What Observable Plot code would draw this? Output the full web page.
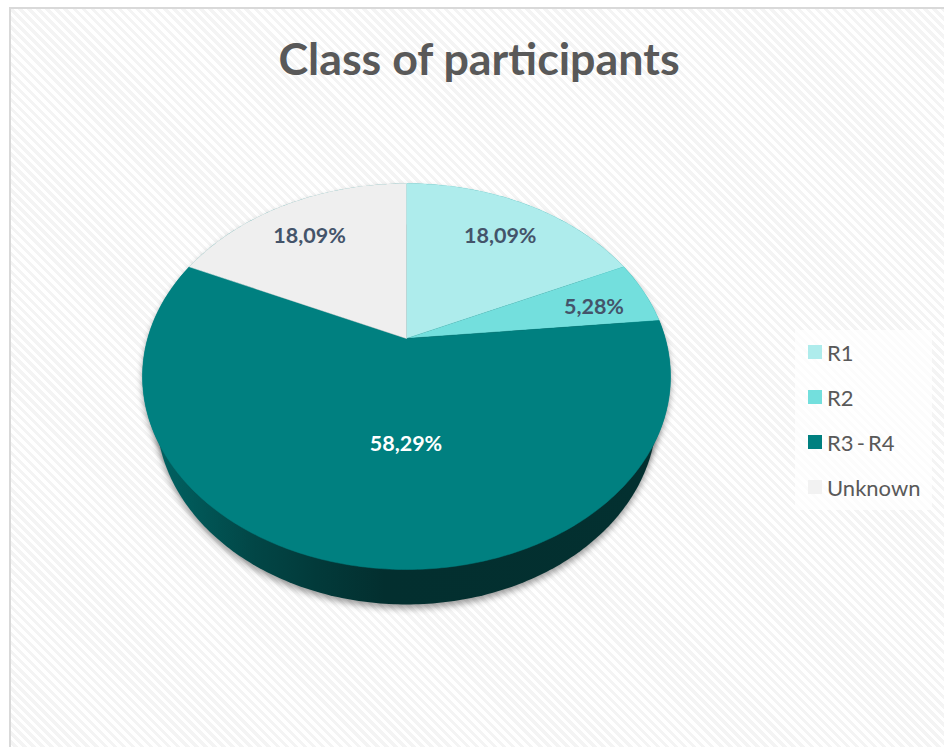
<!DOCTYPE html>
<html>
<head>
<meta charset="utf-8">
<script src="https://cdn.jsdelivr.net/npm/d3@7"></script>
<script src="https://cdn.jsdelivr.net/npm/@observablehq/plot@0.6"></script>
<style>
  html, body { margin: 0; padding: 0; background: #fff; overflow: hidden; }
  #frame { position: relative; width: 944px; height: 747px; overflow: hidden; font-family: Lato, "Open Sans", sans-serif; }
  #bg { position: absolute; left: 9px; top: 7px; right: -4px; bottom: -4px; border: 2px solid #d9d9d9; box-sizing: border-box;
        background: repeating-linear-gradient(45deg, #ffffff 0 3.2px, #f4f4f4 3.2px 6.4px); }
  #title { position: absolute; left: 0; width: 958px; top: 33px; margin: 0; text-align: center; font-size: 44.8px; line-height: 50px; font-weight: 700; color: #595959; }
  #legend { position: absolute; left: 795px; top: 330px; width: 137px; height: 180px; background: rgba(255,255,255,.75); }
  .item { position: absolute; left: 13px; display: flex; align-items: center; height: 24px; font-size: 22px; word-spacing: -2.5px; color: #595959; white-space: pre; }
  .sw { width: 14px; height: 14px; margin-right: 5px; flex: none; }
  svg { position: absolute; left: 0; top: 0; background: transparent; }
</style>
</head>
<body>
<div id="frame">
  <div id="bg"></div>
  <h1 id="title">Class of participants</h1>
  <div id="legend"></div>
</div>
<script>
const categories = ["R1", "R2", "R3 - R4", "Unknown"];
const values = [18.09, 5.28, 58.29, 18.09];
const labels = ["18,09%", "5,28%", "58,29%", "18,09%"];
const colors = ["#aeecec", "#73dfdd", "#008080", "#efefef"];
const labelColors = ["#44546a", "#44546a", "#ffffff", "#44546a"];
const labelX = [0.355, 0.71, -0.002, -0.367];
const labelY = [0.725, 0.358, -0.352, 0.725];

// Perspective tilt of the disc: the projected centre sits above the ellipse centre.
const tilt = 0.197;
function project(theta, r = 1) {
  const u = r * Math.sin(theta), v = r * Math.cos(theta), d = 1 + tilt * v;
  return { x: u * Math.sqrt(1 - tilt * tilt) / d, y: (v + tilt) / d };
}

const total = d3.sum(values);
let cum = 0;
const slicePoints = [];
categories.forEach((category, i) => {
  const a0 = cum / total * 2 * Math.PI;
  cum += values[i];
  const a1 = cum / total * 2 * Math.PI;
  slicePoints.push({ category, ...project(0, 0) });
  const n = Math.ceil((a1 - a0) * 80);
  for (let k = 0; k <= n; ++k) slicePoints.push({ category, ...project(a0 + (a1 - a0) * k / n) });
});

function ellipse(rx, ry, cy) {
  return d3.range(0, 361).map(d => ({
    x: rx * Math.sin(d * Math.PI / 180),
    y: cy + ry * Math.cos(d * Math.PI / 180)
  }));
}
const topRim = ellipse(1, 1, 0);
const bottomRim = ellipse(0.947, 0.984, -0.197);

const labelRows = labels.map((label, i) => ({ label, x: labelX[i], y: labelY[i], color: labelColors[i] }));

const shadow = (index, scales, values, dims, ctx, next) => {
  const g = next(index, scales, values, dims, ctx);
  g.style.filter = "drop-shadow(0px 4px 3px rgba(0,0,0,.38))";
  return g;
};

const plot = Plot.plot({
  width: 944,
  height: 747,
  margin: 0,
  style: { background: "transparent" },
  x: { domain: [-1, 1], range: [142, 670], axis: null },
  y: { domain: [-1, 1], range: [569, 183], axis: null },
  color: { domain: categories, range: colors },
  marks: [
    () => {
      const defs = d3.create("svg:defs");
      const g = defs.append("linearGradient").attr("id", "sideGrad")
        .attr("gradientUnits", "userSpaceOnUse")
        .attr("x1", 150).attr("x2", 670).attr("y1", 0).attr("y2", 0);
      [[0, "#006464"], [0.1, "#015555"], [0.2, "#024646"], [0.32, "#023a3a"], [0.45, "#032f2f"], [1, "#033030"]]
        .forEach(([o, c]) => g.append("stop").attr("offset", o).attr("stop-color", c));
      return defs.node();
    },
    Plot.line(topRim, { x: "x", y: "y", fill: "#008080", stroke: "none", render: shadow }),
    Plot.line(bottomRim, { x: "x", y: "y", fill: "url(#sideGrad)", stroke: "none", render: shadow }),
    Plot.line(slicePoints, { x: "x", y: "y", z: "category", fill: "category", stroke: "category", strokeWidth: 0.5 }),
    Plot.text(labelRows, {
      x: "x", y: "y", text: "label", fill: "color",
      fontFamily: "Lato, 'Open Sans', sans-serif", fontSize: 21.5, fontWeight: 700
    })
  ]
});
document.getElementById("frame").insertBefore(plot, document.getElementById("title"));

const legend = d3.select("#legend");
const legendTops = [10, 55, 100, 145];
categories.forEach((c, i) => {
  const item = legend.append("div").attr("class", "item").style("top", legendTops[i] + "px");
  item.append("span").attr("class", "sw").style("background", i === 3 ? "#f2f2f2" : colors[i]);
  item.append("span").text(c);
});
</script>
</body>
</html>
